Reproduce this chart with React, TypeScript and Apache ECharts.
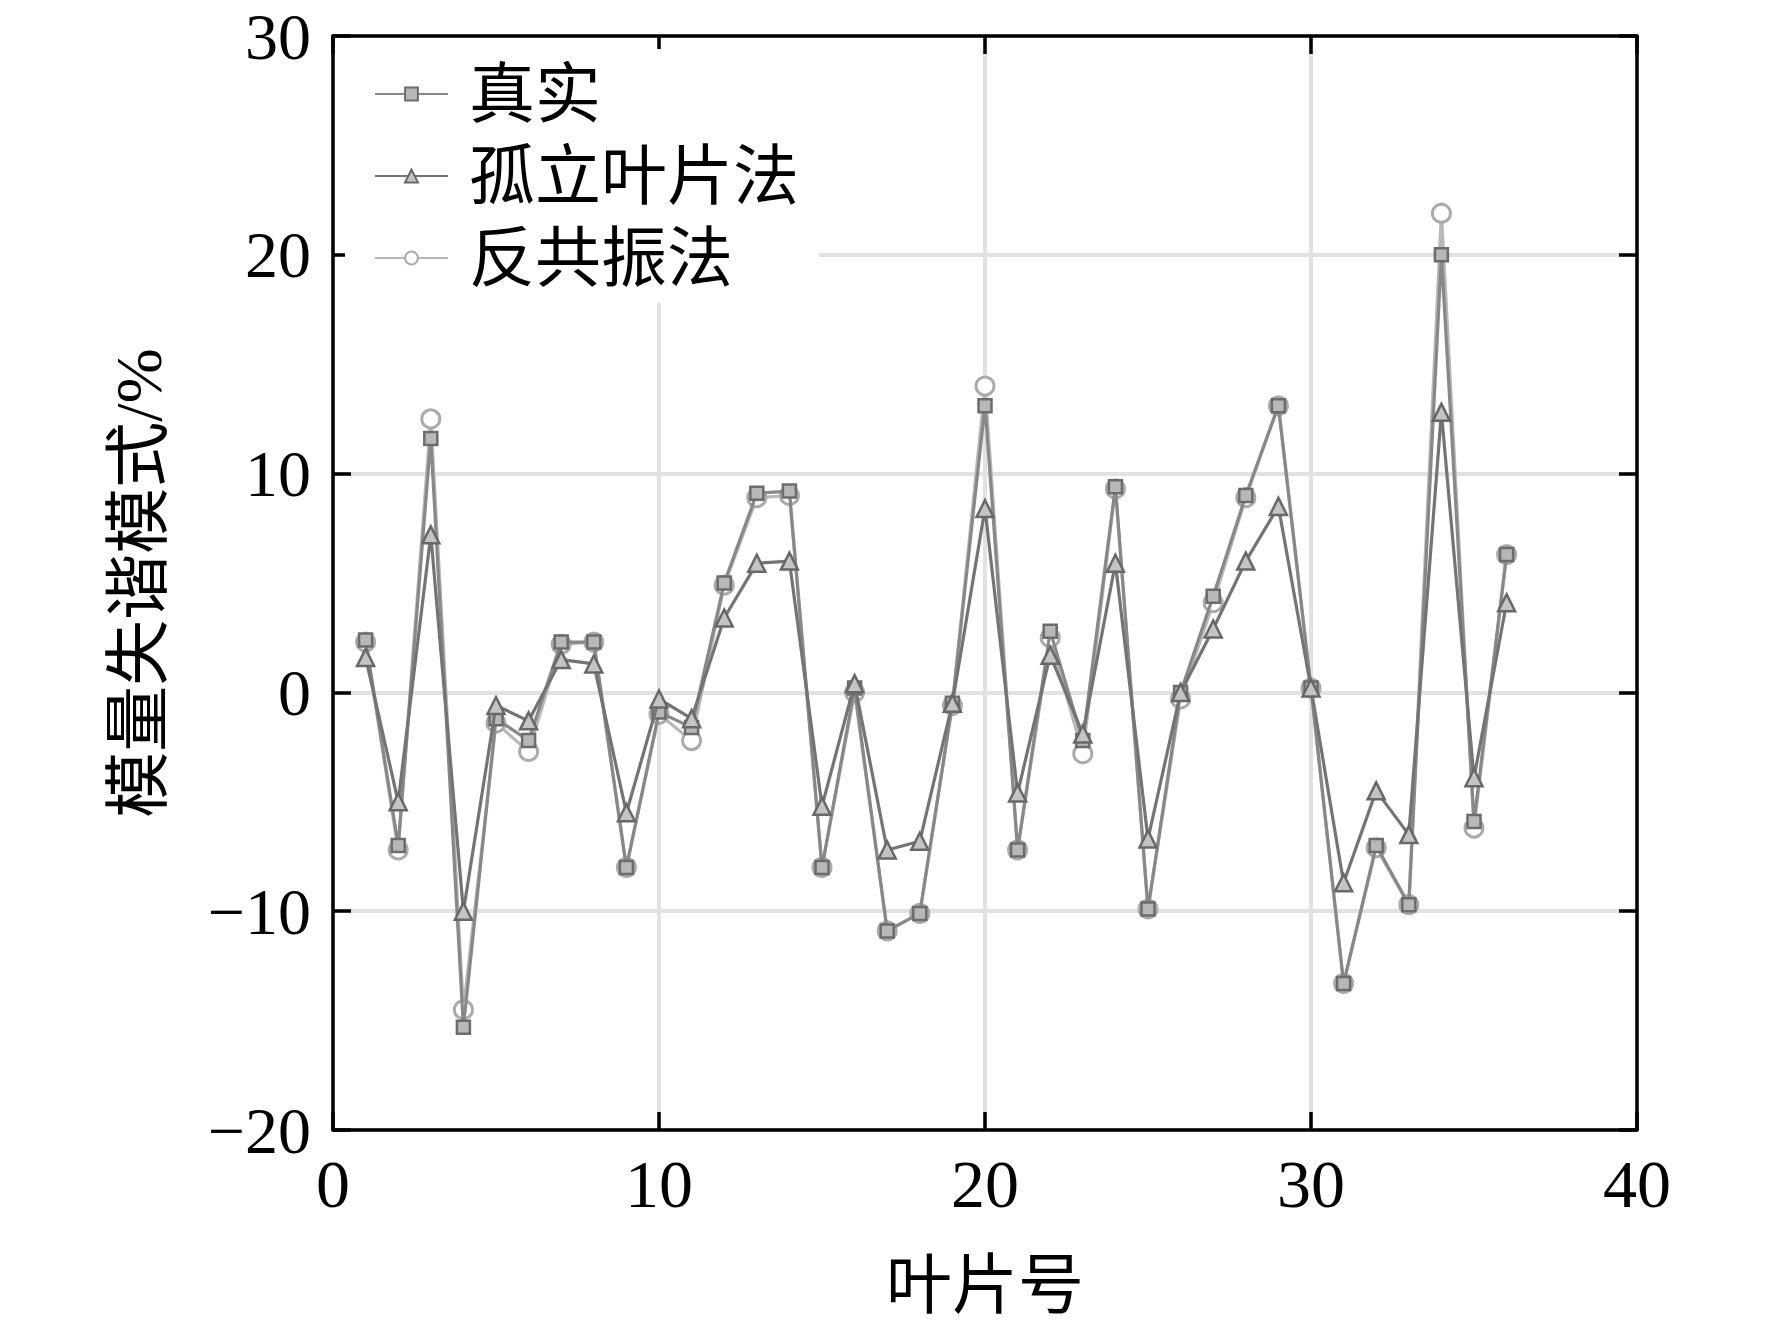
import React, { useEffect, useRef } from "react";
import * as echarts from "echarts";

const bladeNo = [1, 2, 3, 4, 5, 6, 7, 8, 9, 10, 11, 12, 13, 14, 15, 16, 17, 18, 19, 20, 21, 22, 23, 24, 25, 26, 27, 28, 29, 30, 31, 32, 33, 34, 35, 36];
const realValues = [2.4, -7.0, 11.6, -15.3, -1.2, -2.2, 2.3, 2.3, -8.0, -0.9, -1.6, 5.0, 9.1, 9.2, -8.0, 0.2, -10.9, -10.1, -0.5, 13.1, -7.2, 2.8, -2.2, 9.4, -9.9, 0.0, 4.4, 9.0, 13.1, 0.2, -13.3, -7.0, -9.7, 20.0, -5.9, 6.3];
const isolatedValues = [1.6, -5.0, 7.2, -10.0, -0.6, -1.3, 1.5, 1.3, -5.5, -0.3, -1.2, 3.4, 5.9, 6.0, -5.2, 0.4, -7.2, -6.8, -0.5, 8.4, -4.6, 1.7, -1.9, 5.9, -6.7, 0.0, 2.9, 6.0, 8.5, 0.2, -8.7, -4.5, -6.5, 12.8, -3.9, 4.1];
const antiResValues = [2.3, -7.2, 12.5, -14.5, -1.4, -2.7, 2.2, 2.3, -8.0, -1.0, -2.2, 4.9, 8.9, 9.0, -8.0, 0.0, -10.9, -10.1, -0.6, 14.0, -7.2, 2.5, -2.8, 9.3, -9.9, -0.3, 4.1, 8.9, 13.1, 0.2, -13.3, -7.1, -9.7, 21.9, -6.2, 6.3];
const seriesNames = ["真实", "孤立叶片法", "反共振法"];
const xAxisName = "叶片号";
const yAxisName = "模量失谐模式/%";

const FONT = "'Liberation Serif', 'Times New Roman', 'Noto Sans CJK SC', serif";

function pairs(vals: number[]) {
  return vals.map((v, i) => [bladeNo[i], v]);
}

export default function App() {
  const ref = useRef<HTMLDivElement>(null);
  useEffect(() => {
    if (!ref.current) return;
    const chart = echarts.init(ref.current, null, { renderer: "svg" });
    const fmt = (v: number) => String(v).replace("-", "\u2212");
    const tickStyle = { inside: true, length: 18, lineStyle: { color: "#000", width: 3.5 } };
    const axisLineStyle = { show: true, onZero: false, lineStyle: { color: "#000", width: 3.5 } };
    const splitStyle = { show: true, lineStyle: { color: "#e2e2e2", width: 4 } };
    chart.setOption({
      animation: false,
      backgroundColor: "#fff",
      grid: { left: 333, right: 135, top: 36, bottom: 192, containLabel: false },
      legend: {
        orient: "vertical",
        left: 345,
        top: 49,
        padding: [12, 20, 12, 29],
        backgroundColor: "#fff",
        itemWidth: 73,
        itemHeight: 16,
        itemGap: 16,
        data: seriesNames,
        textStyle: { fontFamily: FONT, fontSize: 66, color: "#000", padding: [0, 0, 0, 16] },
      },
      xAxis: [
        {
          type: "value",
          min: 0,
          max: 40,
          interval: 10,
          name: xAxisName,
          nameLocation: "middle",
          nameGap: 122,
          nameTextStyle: { fontFamily: FONT, fontSize: 66, color: "#000" },
          axisLine: axisLineStyle,
          axisTick: tickStyle,
          axisLabel: { fontFamily: FONT, fontSize: 68, color: "#000", margin: 20, formatter: fmt },
          splitLine: splitStyle,
        },
        {
          type: "value",
          position: "top",
          min: 0,
          max: 40,
          interval: 10,
          axisLine: axisLineStyle,
          axisTick: tickStyle,
          axisLabel: { show: false },
          splitLine: { show: false },
        },
      ],
      yAxis: [
        {
          type: "value",
          min: -20,
          max: 30,
          interval: 10,
          name: yAxisName,
          nameLocation: "middle",
          nameGap: 162,
          nameRotate: 90,
          nameTextStyle: { fontFamily: FONT, fontSize: 66, color: "#000" },
          axisLine: axisLineStyle,
          axisTick: tickStyle,
          axisLabel: { fontFamily: FONT, fontSize: 66, lineHeight: 56, color: "#000", margin: 22, formatter: fmt },
          splitLine: splitStyle,
        },
        {
          type: "value",
          position: "right",
          min: -20,
          max: 30,
          interval: 10,
          axisLine: axisLineStyle,
          axisTick: tickStyle,
          axisLabel: { show: false },
          splitLine: { show: false },
        },
      ],
      series: [
        {
          name: seriesNames[0],
          type: "line",
          data: pairs(realValues),
          symbol: "rect",
          symbolSize: 13,
          lineStyle: { color: "#888888", width: 3.2 },
          itemStyle: { color: "#b8b8b8", borderColor: "#6c6c6c", borderWidth: 2.5 },
          z: 3,
        },
        {
          name: seriesNames[1],
          type: "line",
          data: pairs(isolatedValues),
          symbol: "triangle",
          symbolSize: 17,
          lineStyle: { color: "#747474", width: 3.2 },
          itemStyle: { color: "#c4c4c4", borderColor: "#686868", borderWidth: 2.5 },
          z: 4,
        },
        {
          name: seriesNames[2],
          type: "line",
          data: pairs(antiResValues),
          symbol: "circle",
          symbolSize: 18,
          lineStyle: { color: "#b8b8b8", width: 3.2 },
          itemStyle: { color: "#ffffff", borderColor: "#aaaaaa", borderWidth: 3 },
          z: 2,
        },
      ],
    });
    return () => chart.dispose();
  }, []);
  return (
    <div
      ref={ref}
      style={{ position: "fixed", left: 0, top: 0, width: 1772, height: 1323, background: "#fff" }}
    />
  );
}
